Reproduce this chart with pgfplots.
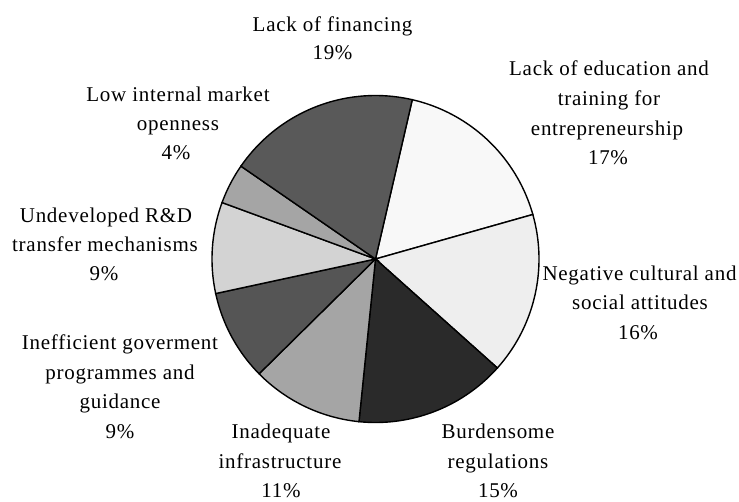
\documentclass[border=0pt]{standalone}
\usepackage{pgfplots}
\pgfplotsset{compat=1.18}
\usepackage{fontspec}
\setmainfont{Liberation Serif}[LetterSpace=3.5]

\definecolor{cFin}{HTML}{595959}
\definecolor{cEdu}{HTML}{F8F8F8}
\definecolor{cNeg}{HTML}{EEEEEE}
\definecolor{cBur}{HTML}{2A2A2A}
\definecolor{cIna}{HTML}{A5A5A5}
\definecolor{cIne}{HTML}{555555}
\definecolor{cUnd}{HTML}{D3D3D3}
\definecolor{cLow}{HTML}{A5A5A5}

% pie geometry in pixel units
\def\cx{375.5}
\def\cy{259}
\def\rr{163.5}
\def\angA{13}  % first slice starts 13 deg clockwise from 12 o'clock

% one wedge: share in percent, fill colour
\newcommand\slice[2]{%
  \pgfmathsetmacro\angB{\angA+3.6*#1}%
  \edef\temp{\noexpand\addplot[draw=black, line width=1.4pt, fill=#2,
      domain=\angA:\angB, samples=60]
      ({\cx+\rr*sin(x)},{\cy-\rr*cos(x)}) -- (axis cs:\cx,\cy) -- cycle;}%
  \temp
  \global\let\angA\angB
}
\newcommand\lbl[3]{\node[anchor=base, inner sep=0pt,
  font=\fontsize{21bp}{25bp}\selectfont] at (axis cs:#1,#2) {#3};}

\begin{document}
\begin{tikzpicture}
\path[use as bounding box] (0,0) rectangle (739bp,502bp);
\begin{axis}[
  at={(0,0)}, anchor=south west,
  scale only axis, width=739bp, height=502bp,
  xmin=0, xmax=739, ymin=0, ymax=502, y dir=reverse,
  hide axis, clip=false,
]
\slice{17}{cEdu}
\slice{16}{cNeg}
\slice{15}{cBur}
\slice{11}{cIna}
\slice{9}{cIne}
\slice{9}{cUnd}
\slice{4}{cLow}
\slice{19}{cFin}

\lbl{332.5}{32}{Lack of financing}
\lbl{332.5}{60}{19\%}

\lbl{609}{76}{Lack of education and}
\lbl{609}{105.5}{training for}
\lbl{607}{135}{entrepreneurship}
\lbl{608}{164.5}{17\%}

\lbl{639.5}{280}{Negative cultural and}
\lbl{640}{309}{social attitudes}
\lbl{638}{339}{16\%}

\lbl{498}{438}{Burdensome}
\lbl{498}{468}{regulations}
\lbl{498}{497}{15\%}

\lbl{281}{438}{Inadequate}
\lbl{280}{468}{infrastructure}
\lbl{281}{497}{11\%}

\lbl{120}{349}{Inefficient goverment}
\lbl{120}{379}{programmes and}
\lbl{120}{408}{guidance}
\lbl{120}{438}{9\%}

\lbl{106}{222}{Undeveloped R\&D}
\lbl{105}{251}{transfer mechanisms}
\lbl{104}{280}{9\%}

\lbl{178}{101}{Low internal market}
\lbl{178}{130}{openness}
\lbl{176}{159}{4\%}
\end{axis}
\end{tikzpicture}
\end{document}
